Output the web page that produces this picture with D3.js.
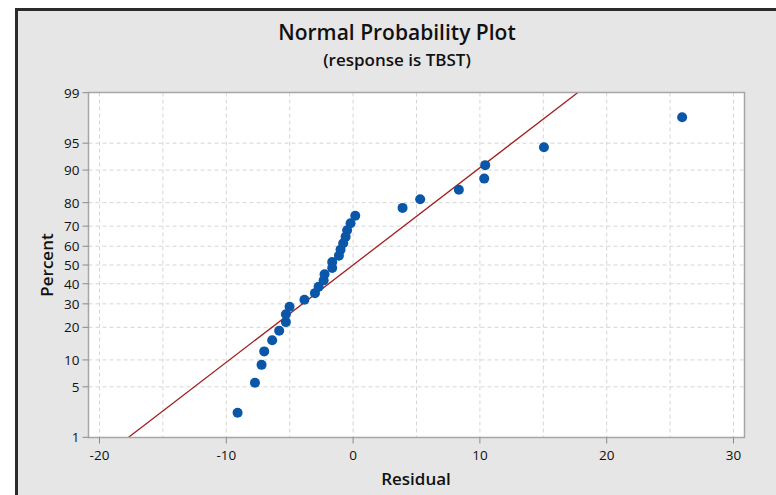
<!DOCTYPE html>
<html>
<head>
<meta charset="utf-8">
<script src="https://cdn.jsdelivr.net/npm/d3@7"></script>
<style>
  html, body { margin: 0; padding: 0; background: #ffffff; }
  svg { display: block; }
  text { font-family: "Open Sans", "Noto Sans", sans-serif; fill: #111; }
</style>
</head>
<body>
<svg id="chart" width="776" height="495"></svg>
<script>
// ---- data ----
const residuals = [-9.11, -7.74, -7.22, -7.01, -6.38, -5.83, -5.30, -5.30, -5.01, -3.84,
                   -3.01, -2.72, -2.32, -2.25, -1.65, -1.65, -1.12, -0.99, -0.78, -0.59,
                   -0.47, -0.20, 0.17, 3.90, 5.29, 8.34, 10.34, 10.42, 15.05, 25.95];
const percents  = [2.30, 5.59, 8.88, 12.17, 15.46, 18.75, 22.04, 25.33, 28.62, 31.91,
                   35.20, 38.49, 41.78, 45.07, 48.36, 51.64, 54.93, 58.22, 61.51, 64.80,
                   68.09, 71.38, 74.67, 77.96, 81.25, 84.54, 87.83, 91.12, 94.41, 97.70];
const fitMean = 0.0;
const fitStDev = 7.61;
const percentTicks = [1, 5, 10, 20, 30, 40, 50, 60, 70, 80, 90, 95, 99];
const residualTicks = [-20, -10, 0, 10, 20, 30];
const residualGrid = [-20, -15, -10, -5, 0, 5, 10, 15, 20, 25, 30];
const titleText = "Normal Probability Plot";
const subtitleText = "(response is TBST)";
const xLabel = "Residual";
const yLabel = "Percent";

// inverse normal CDF (Acklam)
function probit(p) {
  const a = [-3.969683028665376e+01, 2.209460984245205e+02, -2.759285104469687e+02,
             1.383577518672690e+02, -3.066479806614716e+01, 2.506628277459239e+00];
  const b = [-5.447609879822406e+01, 1.615858368580409e+02, -1.556989798598866e+02,
             6.680131188771972e+01, -1.328068155288572e+01];
  const c = [-7.784894002430293e-03, -3.223964580411365e-01, -2.400758277161838e+00,
             -2.549732539343734e+00, 4.374664141464968e+00, 2.938163982698783e+00];
  const d = [7.784695709041462e-03, 3.224671290700398e-01, 2.445134137142996e+00,
             3.754408661907416e+00];
  const pl = 0.02425, ph = 1 - pl;
  let q, r;
  if (p < pl) {
    q = Math.sqrt(-2 * Math.log(p));
    return (((((c[0]*q+c[1])*q+c[2])*q+c[3])*q+c[4])*q+c[5]) / ((((d[0]*q+d[1])*q+d[2])*q+d[3])*q+1);
  } else if (p <= ph) {
    q = p - 0.5; r = q * q;
    return (((((a[0]*r+a[1])*r+a[2])*r+a[3])*r+a[4])*r+a[5])*q / (((((b[0]*r+b[1])*r+b[2])*r+b[3])*r+b[4])*r+1);
  } else {
    q = Math.sqrt(-2 * Math.log(1 - p));
    return -(((((c[0]*q+c[1])*q+c[2])*q+c[3])*q+c[4])*q+c[5]) / ((((d[0]*q+d[1])*q+d[2])*q+d[3])*q+1);
  }
}

const svg = d3.select("#chart");

// outer frame
svg.append("rect").attr("x", 16.5).attr("y", 9.5).attr("width", 800).attr("height", 520)
  .attr("fill", "#e6e6e6").attr("stroke", "#2b2b2b").attr("stroke-width", 3);

// plot area
const plot = { left: 88.5, right: 744.5, top: 92.5, bottom: 437.5 };

const x = d3.scaleLinear().domain([-20, 30]).range([99.5, 733.5]);
const zTop = probit(0.99), zBot = probit(0.01);
const zScale = d3.scaleLinear().domain([zBot, zTop]).range([437.3, 92.7]);
const y = p => zScale(probit(p / 100));

svg.append("rect").attr("x", plot.left).attr("y", plot.top)
  .attr("width", plot.right - plot.left).attr("height", plot.bottom - plot.top)
  .attr("fill", "#ffffff");

// grid
const grid = svg.append("g");
grid.selectAll("line.v").data(residualGrid).join("line")
  .attr("x1", d => x(d)).attr("x2", d => x(d))
  .attr("y1", plot.top).attr("y2", plot.bottom)
  .attr("stroke", "#d6d6d6").attr("stroke-width", 1).attr("stroke-dasharray", "4,3");
grid.selectAll("line.h").data(percentTicks.filter(p => p !== 1 && p !== 99)).join("line")
  .attr("x1", plot.left).attr("x2", plot.right)
  .attr("y1", d => y(d)).attr("y2", d => y(d))
  .attr("stroke", "#d6d6d6").attr("stroke-width", 1).attr("stroke-dasharray", "4,3");

// fit line
const fitPts = [0.01, 0.99].map(p => [x(fitMean + fitStDev * probit(p)), zScale(probit(p))]);
svg.append("path").attr("d", d3.line()(fitPts))
  .attr("stroke", "#a01f1f").attr("stroke-width", 1.3).attr("fill", "none");

// points
svg.append("g").selectAll("circle").data(residuals).join("circle")
  .attr("cx", d => x(d)).attr("cy", (d, i) => y(percents[i]))
  .attr("r", 5).attr("fill", "#0a56a8");

// plot border
svg.append("rect").attr("x", plot.left).attr("y", plot.top)
  .attr("width", plot.right - plot.left).attr("height", plot.bottom - plot.top)
  .attr("fill", "none").attr("stroke", "#a6a6a6").attr("stroke-width", 1.5);

// y axis
const yAx = svg.append("g");
yAx.selectAll("line").data(percentTicks).join("line")
  .attr("x1", plot.left - 6).attr("x2", plot.left)
  .attr("y1", d => y(d)).attr("y2", d => y(d))
  .attr("stroke", "#8a8a8a").attr("stroke-width", 1);
yAx.selectAll("text").data(percentTicks).join("text")
  .attr("x", plot.left - 9).attr("y", d => y(d)).attr("dy", "0.36em")
  .attr("text-anchor", "end").attr("font-size", 13.5).attr("fill", "#1a1a1a").text(d => d);

// x axis
const xAx = svg.append("g");
xAx.selectAll("line").data(residualTicks).join("line")
  .attr("x1", d => x(d)).attr("x2", d => x(d))
  .attr("y1", plot.bottom).attr("y2", plot.bottom + 6)
  .attr("stroke", "#8a8a8a").attr("stroke-width", 1);
xAx.selectAll("text").data(residualTicks).join("text")
  .attr("x", d => x(d)).attr("y", plot.bottom + 22)
  .attr("text-anchor", "middle").attr("font-size", 13.5).attr("fill", "#1a1a1a").text(d => d);

// titles
svg.append("text").attr("x", 397).attr("y", 40).attr("text-anchor", "middle")
  .attr("font-size", 21).attr("font-weight", "600").text(titleText);
svg.append("text").attr("x", 397).attr("y", 66).attr("text-anchor", "middle")
  .attr("font-size", 17).attr("font-weight", "600").text(subtitleText);
svg.append("text").attr("x", 416).attr("y", 485).attr("text-anchor", "middle")
  .attr("font-size", 17).attr("font-weight", "600").text(xLabel);
svg.append("text").attr("transform", "translate(53,265) rotate(-90)")
  .attr("text-anchor", "middle").attr("font-size", 17).attr("font-weight", "600").text(yLabel);
</script>
</body>
</html>
